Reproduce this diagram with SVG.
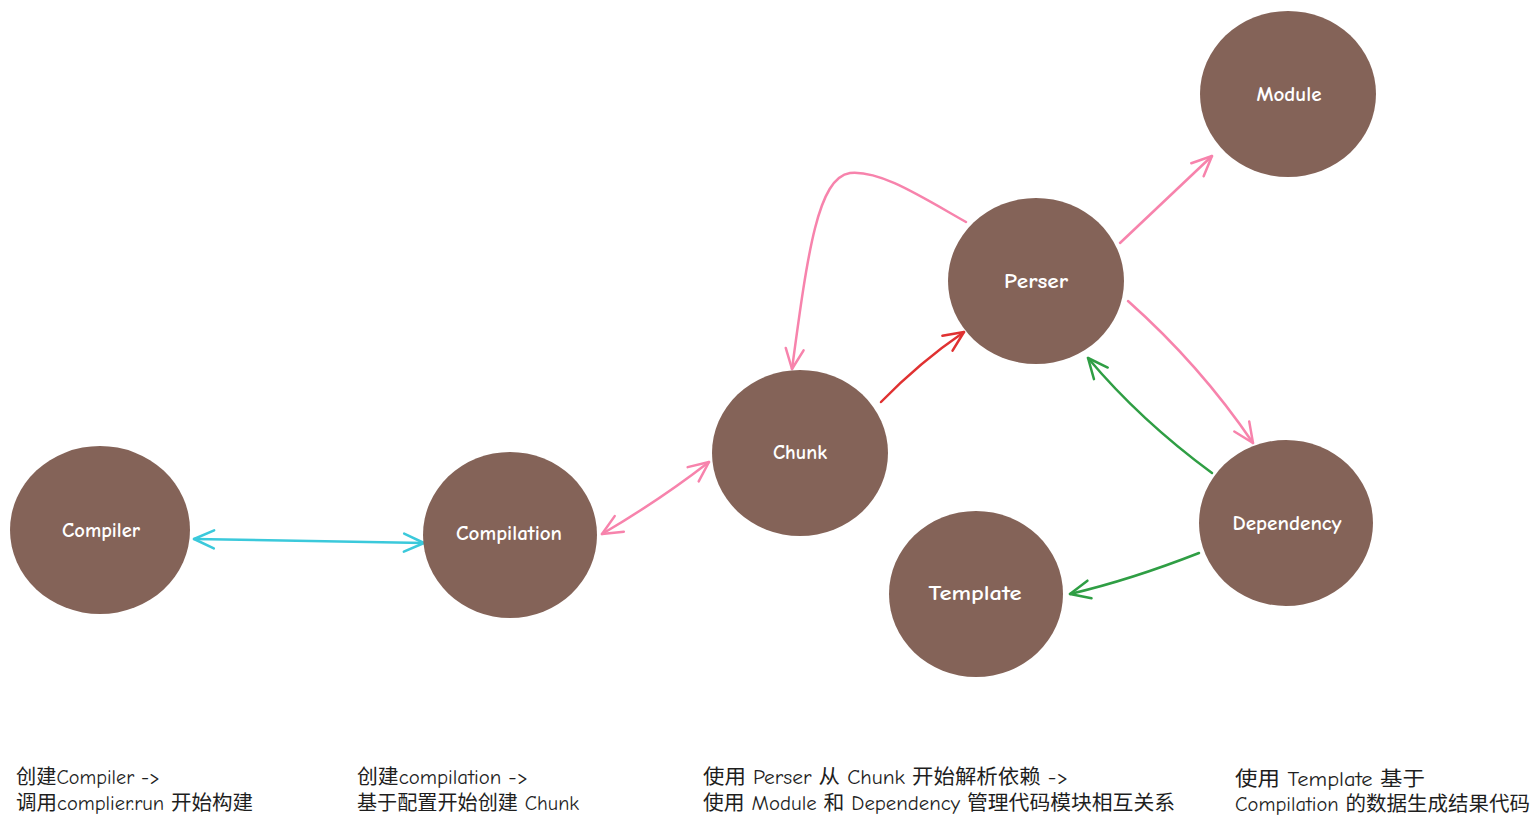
<svg xmlns="http://www.w3.org/2000/svg" width="1540" height="828" viewBox="0 0 1540 828">
<style>
.node{fill:#846358;}
.lbl{fill:#ffffff;font-family:"Comic Neue","Liberation Sans","Noto Sans",sans-serif;font-size:20px;font-weight:bold;text-anchor:middle;dominant-baseline:central;}
.note{fill:#1e1e1e;font-family:"Comic Neue","Liberation Sans","Noto Sans CJK SC",sans-serif;font-size:20px;}
.a{fill:none;stroke-width:2.5;stroke-linecap:round;stroke-linejoin:round;}
.cy{stroke:#3bc9db;}
.pk{stroke:#f783ac;}
.rd{stroke:#e03131;}
.gn{stroke:#2f9e44;}
</style>
<defs>
<marker id="mcy" viewBox="-22 -12 26 24" refX="0" refY="0" markerWidth="26" markerHeight="24" markerUnits="userSpaceOnUse" orient="auto-start-reverse"><path d="M-20,-9 L0,0 L-20,9" fill="none" stroke="#3bc9db" stroke-width="2.5" stroke-linecap="round" stroke-linejoin="round"/></marker>
<marker id="mpk" viewBox="-22 -12 26 24" refX="0" refY="0" markerWidth="26" markerHeight="24" markerUnits="userSpaceOnUse" orient="auto-start-reverse"><path d="M-20,-9 L0,0 L-20,9" fill="none" stroke="#f783ac" stroke-width="2.5" stroke-linecap="round" stroke-linejoin="round"/></marker>
<marker id="mrd" viewBox="-22 -12 26 24" refX="0" refY="0" markerWidth="26" markerHeight="24" markerUnits="userSpaceOnUse" orient="auto-start-reverse"><path d="M-20,-9 L0,0 L-20,9" fill="none" stroke="#e03131" stroke-width="2.5" stroke-linecap="round" stroke-linejoin="round"/></marker>
<marker id="mgn" viewBox="-22 -12 26 24" refX="0" refY="0" markerWidth="26" markerHeight="24" markerUnits="userSpaceOnUse" orient="auto-start-reverse"><path d="M-20,-9 L0,0 L-20,9" fill="none" stroke="#2f9e44" stroke-width="2.5" stroke-linecap="round" stroke-linejoin="round"/></marker>
</defs>
<rect width="1540" height="828" fill="#ffffff"/>
<g id="connectors">
<path class="a cy" d="M194,539 L424,543" marker-start="url(#mcy)" marker-end="url(#mcy)"/>
<path class="a pk" d="M602,534 Q660,500 709,462" marker-start="url(#mpk)" marker-end="url(#mpk)"/>
<path class="a rd" d="M881,402 Q920,362 964,332" marker-end="url(#mrd)"/>
<path class="a pk" d="M1120,243 L1212,156" marker-end="url(#mpk)"/>
<path class="a pk" d="M1128,301 Q1200,365 1253,443" marker-end="url(#mpk)"/>
<path class="a pk" d="M966,222 C920,196 880,170 850,173 C818,178 808,250 792,369" marker-end="url(#mpk)"/>
<path class="a gn" d="M1212,473 Q1140,420 1088,358" marker-end="url(#mgn)"/>
<path class="a gn" d="M1199,553 Q1130,580 1070,594" marker-end="url(#mgn)"/>
</g>
<g id="compiler"><ellipse class="node" cx="100" cy="530" rx="90" ry="84"/><text class="lbl" x="101" y="530" textLength="78" lengthAdjust="spacingAndGlyphs">Compiler</text></g>
<g id="compilation"><ellipse class="node" cx="510" cy="535" rx="87" ry="83"/><text class="lbl" x="509" y="533" textLength="106" lengthAdjust="spacingAndGlyphs">Compilation</text></g>
<g id="chunk"><ellipse class="node" cx="800" cy="453" rx="88" ry="83"/><text class="lbl" x="800" y="452" textLength="54" lengthAdjust="spacingAndGlyphs">Chunk</text></g>
<g id="perser"><ellipse class="node" cx="1036" cy="281" rx="88" ry="83"/><text class="lbl" x="1036" y="281" textLength="64" lengthAdjust="spacingAndGlyphs">Perser</text></g>
<g id="module"><ellipse class="node" cx="1288" cy="94" rx="88" ry="83"/><text class="lbl" x="1289" y="94" textLength="65" lengthAdjust="spacingAndGlyphs">Module</text></g>
<g id="dependency"><ellipse class="node" cx="1286" cy="523" rx="87" ry="83"/><text class="lbl" x="1287" y="523" textLength="109" lengthAdjust="spacingAndGlyphs">Dependency</text></g>
<g id="template"><ellipse class="node" cx="976" cy="594" rx="87" ry="83"/><text class="lbl" x="975" y="593" textLength="93" lengthAdjust="spacingAndGlyphs">Template</text></g>
<g id="notes">
<text class="note" x="16" y="784" textLength="144" lengthAdjust="spacingAndGlyphs">创建Compiler -&gt;</text>
<text class="note" x="16" y="810" textLength="237" lengthAdjust="spacingAndGlyphs">调用complier.run 开始构建</text>
<text class="note" x="357" y="784" textLength="171" lengthAdjust="spacingAndGlyphs">创建compilation -&gt;</text>
<text class="note" x="357" y="810" textLength="222" lengthAdjust="spacingAndGlyphs">基于配置开始创建 Chunk</text>
<text class="note" x="703" y="784" textLength="365" lengthAdjust="spacingAndGlyphs">使用 Perser 从 Chunk 开始解析依赖 -&gt;</text>
<text class="note" x="703" y="810" textLength="472" lengthAdjust="spacingAndGlyphs">使用 Module 和 Dependency 管理代码模块相互关系</text>
<text class="note" x="1235" y="786" textLength="190" lengthAdjust="spacingAndGlyphs">使用 Template 基于</text>
<text class="note" x="1235" y="811" textLength="295" lengthAdjust="spacingAndGlyphs">Compilation 的数据生成结果代码</text>
</g>
</svg>
